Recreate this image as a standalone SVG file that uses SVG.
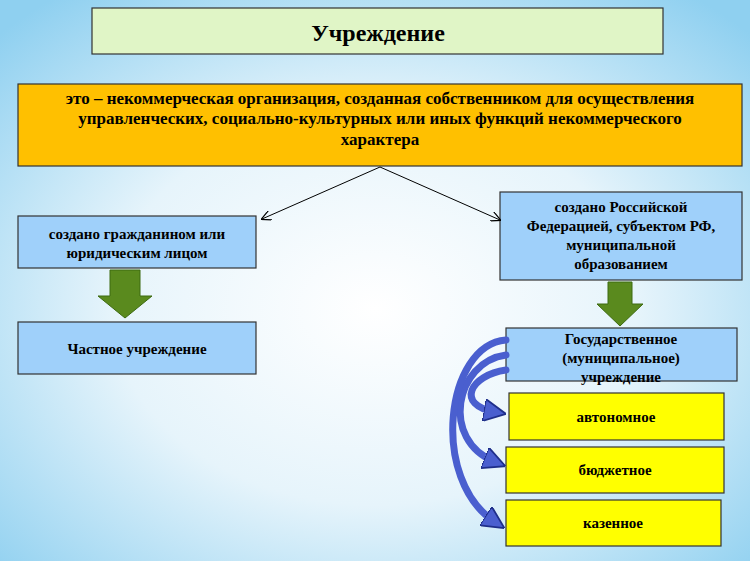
<svg xmlns="http://www.w3.org/2000/svg" width="750" height="561" viewBox="0 0 750 561">
<defs>
<radialGradient id="bg" cx="0.5" cy="0.55" r="0.7">
<stop offset="0" stop-color="#ffffff"/><stop offset="0.5" stop-color="#e6f4fb"/><stop offset="1" stop-color="#8fd0f0"/>
</radialGradient>
<marker id="ar" viewBox="0 0 10 10" refX="9" refY="5" markerWidth="10" markerHeight="10" markerUnits="userSpaceOnUse" orient="auto"><path d="M0,0 L10,5 L0,10" fill="none" stroke="#000" stroke-width="1.2"/></marker>
<marker id="ba" viewBox="0 0 10 10" refX="5" refY="5" markerWidth="3.2" markerHeight="3.2" orient="auto"><path d="M0,0 L10,5 L0,10 Z" fill="#4a5fcf" stroke="#1f2f8a" stroke-width="0.8"/></marker>
</defs>
<style>
.b{stroke:#333;stroke-width:1.2}
.t{font-family:"Liberation Serif",serif;font-weight:bold;font-size:15px;fill:#000;text-anchor:middle}
.blue{fill:#9fd0fa}
.yel{fill:#ffff00}
.g{fill:#5a8a1e;stroke:#3d6a10;stroke-width:1}
.cv{fill:none;stroke:#4a5fcf;stroke-width:7;stroke-linecap:round;marker-end:url(#ba)}
</style>
<rect width="750" height="561" fill="url(#bg)"/>
<g id="title"><rect x="92" y="8" width="571" height="46" fill="#e0f5c6" class="b"/><text x="378" y="41" class="t" style="font-size:24px">Учреждение</text></g>
<g id="def"><rect x="18" y="84" width="724" height="82" fill="#ffc000" class="b"/>
<text x="380" y="104" class="t" style="font-size:17px">это – некоммерческая организация, созданная собственником для осуществления</text>
<text x="380" y="124" class="t" style="font-size:17px">управленческих, социально-культурных или иных функций некоммерческого</text>
<text x="380" y="145" class="t" style="font-size:17px">характера</text></g>
<g id="left"><rect x="18" y="216" width="238" height="52" class="blue b"/><text x="137" y="239" class="t">создано гражданином или</text><text x="137" y="258" class="t">юридическим лицом</text></g>
<g id="right"><rect x="500" y="192" width="242" height="88" class="blue b"/><text x="621" y="212" class="t">создано Российской</text><text x="621" y="231" class="t">Федерацией, субъектом РФ,</text><text x="621" y="250" class="t">муниципальной</text><text x="621" y="269" class="t">образованием</text></g>
<g id="private"><rect x="18" y="322" width="238" height="52" class="blue b"/><text x="137" y="354" class="t">Частное учреждение</text></g>
<g id="gov"><rect x="506" y="328" width="231" height="53" class="blue b"/><text x="621" y="344" class="t">Государственное</text><text x="621" y="363" class="t">(муниципальное)</text><text x="621" y="382" class="t">учреждение</text></g>
<g id="auto"><rect x="509" y="393" width="215" height="47" class="yel b"/><text x="616" y="422" class="t">автономное</text></g>
<g id="budget"><rect x="506" y="447" width="218" height="46" class="yel b"/><text x="615" y="475" class="t">бюджетное</text></g>
<g id="kazen"><rect x="506" y="500" width="215" height="46" class="yel b"/><text x="613" y="528" class="t">казенное</text></g>
<g id="connectors">
<line x1="380" y1="167" x2="262" y2="219" stroke="#000" stroke-width="1" marker-end="url(#ar)"/>
<line x1="380" y1="167" x2="500" y2="220" stroke="#000" stroke-width="1" marker-end="url(#ar)"/>
<path class="g" d="M110,270 H140 V296 H152 L125,318 L98,296 H110 Z"/>
<path class="g" d="M608,282 H632 V304 H643 L620,326 L597,304 H608 Z"/>
<path class="cv" d="M506,370 C470,375 455,405 495,412"/>
<path class="cv" d="M506,355 C455,362 440,440 495,462"/>
<path class="cv" d="M506,340 C445,345 430,480 495,522"/>
</g>
</svg>
